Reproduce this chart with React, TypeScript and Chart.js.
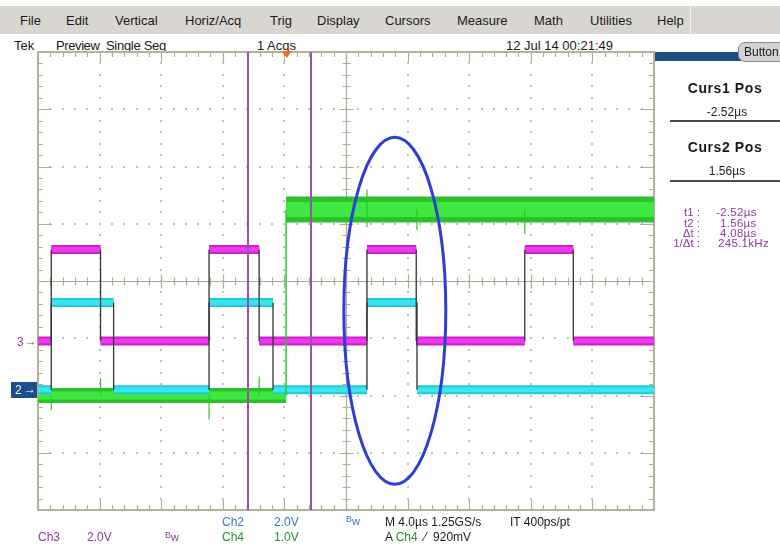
import React, { useEffect, useRef } from "react";
import { Chart, registerables } from "chart.js";
Chart.register(...registerables);

// ---- horizontal: time in µs, 4 µs/div, 10 divisions, trigger at 40.4 %
const TIME_MIN = -16.16;
const TIME_MAX = 23.84;
const DIV_T = 4;
// ---- vertical: divisions
const V_MIN = -4;
const V_MAX = 4;

// Ch3 (magenta) transition times (µs) and levels (div)
const ch3Edges = [-15.3, -12.1, -5.05, -1.8, 5.2, 8.4, 15.45, 18.6];
const ch3Low = -1.05;
const ch3High = 0.55;
// Ch2 (cyan)
const ch2Edges = [-15.3, -11.25, -5.05, -0.9, 5.2, 8.45];
const ch2Low = -1.9;
const ch2High = -0.375;
// Ch4 (green)
const ch4Edges = [-0.05];
const ch4Low = -2.0;
const ch4High = 1.25;
// Ch4 glitches
const ch4SpikeT = [-15.3, -12.1, -5.05, -1.8, 5.2, 8.45, 15.45];
const ch4SpikeTop = [-2.0, -1.7, -2.0, -1.67, 1.6, 1.25, 1.25];
const ch4SpikeBottom = [-2.25, -2.0, -2.42, -2.0, 0.94, 0.89, 0.82];

// cursors (µs)
const cursorT = [-2.52, 1.56];
// ellipse annotation (centre µs, centre div, radius µs, radius div)
const ellipseC = [7.01, -0.52];
const ellipseR = [3.31, 3.03];

const menuLabels = ["File", "Edit", "Vertical", "Horiz/Acq", "Trig", "Display", "Cursors", "Measure", "Math", "Utilities", "Help"];
const menuX = [20, 66, 115, 185, 270, 317, 385, 457, 534, 590, 657];

const FONT = "'Liberation Sans', Arial, Helvetica, sans-serif";

type P = { x: number; y: number | null };

function bands(edges: number[], low: number, high: number, which: "low" | "high" | "all"): P[] {
  const b = [TIME_MIN, ...edges, TIME_MAX];
  const pts: P[] = [];
  for (let i = 0; i < b.length - 1; i++) {
    const hi = i % 2 === 1;
    if (which === "low" && hi) continue;
    if (which === "high" && !hi) continue;
    const lvl = hi ? high : low;
    pts.push({ x: b[i], y: lvl }, { x: b[i + 1], y: lvl }, { x: b[i + 1], y: null });
  }
  return pts;
}
function edgeSegs(edges: number[], low: number, high: number): P[] {
  const pts: P[] = [];
  edges.forEach((e) => pts.push({ x: e, y: low }, { x: e, y: high }, { x: e, y: null }));
  return pts;
}
function spikeSegs(): P[] {
  const pts: P[] = [];
  ch4SpikeT.forEach((t, i) => pts.push({ x: t, y: ch4SpikeBottom[i] }, { x: t, y: ch4SpikeTop[i] }, { x: t, y: null }));
  return pts;
}

const graticule = {
  id: "graticule",
  beforeDatasetsDraw(chart: any) {
    const { ctx, chartArea: a, scales } = chart;
    const px = (d: number) => scales.x.getPixelForValue(TIME_MIN + d * DIV_T);
    const py = (d: number) => scales.y.getPixelForValue(d);
    ctx.save();
    // dotted major grid
    ctx.fillStyle = "#c4c4be";
    for (let k = 1; k < 10; k++) {
      if (k === 5) continue;
      const x = Math.round(px(k));
      for (let m = 0; m <= 40; m++) {
        const y = Math.round(py(V_MIN + m * 0.2));
        ctx.fillRect(x - 1, y - 1, 2, 2);
      }
    }
    for (let j = -3; j <= 3; j++) {
      if (j === 0) continue;
      const y = Math.round(py(j));
      for (let m = 0; m <= 50; m++) {
        const x = Math.round(px(m * 0.2));
        ctx.fillRect(x - 1, y - 1, 2, 2);
      }
    }
    // centre cross
    ctx.strokeStyle = "#b1ac96";
    ctx.lineWidth = 1.2;
    const cx = Math.round(px(5)) + 0.5;
    const cy = Math.round(py(0)) + 0.5;
    ctx.beginPath();
    ctx.moveTo(a.left, cy);
    ctx.lineTo(a.right, cy);
    ctx.moveTo(cx, a.top);
    ctx.lineTo(cx, a.bottom);
    ctx.stroke();
    ctx.beginPath();
    for (let m = 0; m <= 50; m++) {
      const x = Math.round(px(m * 0.2)) + 0.5;
      const len = m % 5 === 0 ? 7 : 4;
      ctx.moveTo(x, cy - len);
      ctx.lineTo(x, cy + len);
      const bl = m % 5 === 0 ? 10 : 5;
      ctx.moveTo(x, a.top);
      ctx.lineTo(x, a.top + bl);
      ctx.moveTo(x, a.bottom);
      ctx.lineTo(x, a.bottom - bl);
    }
    for (let m = 0; m <= 40; m++) {
      const y = Math.round(py(V_MIN + m * 0.2)) + 0.5;
      const len = m % 5 === 0 ? 7 : 4;
      ctx.moveTo(cx - len, y);
      ctx.lineTo(cx + len, y);
      const bl = m % 5 === 0 ? 14 : 5;
      ctx.moveTo(a.left, y);
      ctx.lineTo(a.left + bl, y);
      ctx.moveTo(a.right, y);
      ctx.lineTo(a.right - bl, y);
    }
    ctx.stroke();
    // border
    ctx.strokeStyle = "#b5b099";
    ctx.lineWidth = 2;
    ctx.strokeRect(a.left, a.top, a.right - a.left, a.bottom - a.top);
    ctx.restore();
  },
  afterDatasetsDraw(chart: any) {
    const { ctx, chartArea: a, scales } = chart;
    ctx.save();
    // cursors
    ctx.strokeStyle = "#9a52a6";
    ctx.lineWidth = 2;
    cursorT.forEach((t) => {
      const x = Math.round(scales.x.getPixelForValue(t));
      ctx.beginPath();
      ctx.moveTo(x, a.top);
      ctx.lineTo(x, a.bottom);
      ctx.stroke();
    });
    // trigger marker
    const tx = scales.x.getPixelForValue(0);
    ctx.fillStyle = "#f26a1b";
    ctx.beginPath();
    ctx.moveTo(tx - 5, a.top - 1);
    ctx.lineTo(tx + 5, a.top - 1);
    ctx.lineTo(tx, a.top + 6);
    ctx.closePath();
    ctx.fill();
    // ellipse
    const ex = scales.x.getPixelForValue(ellipseC[0]);
    const ey = scales.y.getPixelForValue(ellipseC[1]);
    const rx = Math.abs(scales.x.getPixelForValue(ellipseC[0] + ellipseR[0]) - ex);
    const ry = Math.abs(scales.y.getPixelForValue(ellipseC[1] + ellipseR[1]) - ey);
    ctx.strokeStyle = "#2e3ed2";
    ctx.lineWidth = 3;
    ctx.beginPath();
    ctx.ellipse(ex, ey, rx, ry, 0, 0, Math.PI * 2);
    ctx.stroke();
    ctx.restore();
  },
};

function line(data: P[], color: string, width: number, order: number) {
  return {
    data,
    borderColor: color,
    borderWidth: width,
    pointRadius: 0,
    spanGaps: false,
    tension: 0,
    borderCapStyle: "butt",
    order,
  };
}

function Scope() {
  const ref = useRef<HTMLCanvasElement | null>(null);
  useEffect(() => {
    if (!ref.current) return;
    const chart = new Chart(ref.current, {
      type: "line",
      data: {
        datasets: [
          line(bands(ch4Edges, ch4Low, ch4High, "high"), "#2cc02c", 26, 20),
          line(bands(ch4Edges, ch4Low, ch4High, "high"), "#3ee83e", 15, 19),
          line(bands(ch4Edges, ch4Low, ch4High, "low"), "#2cc02c", 15, 18),
          line(bands(ch4Edges, ch4Low, ch4High, "low"), "#3ee83e", 8, 17),
          line(bands(ch2Edges, ch2Low, ch2High, "all"), "#22c9d6", 9, 16),
          line(bands(ch2Edges, ch2Low, ch2High, "all"), "#3ae6ee", 5, 15),
          line(bands(ch3Edges, ch3Low, ch3High, "all"), "#cc22cc", 9, 14),
          line(bands(ch3Edges, ch3Low, ch3High, "all"), "#ea3aea", 5, 13),
          line(edgeSegs(ch3Edges, ch3Low, ch3High), "#333333", 1.3, 5),
          line(edgeSegs(ch2Edges, ch2Low, ch2High), "#333333", 1.3, 4),
          line(edgeSegs(ch4Edges, ch4Low, ch4High), "#2cc42c", 1.5, 3),
          line(spikeSegs(), "#2cc42c", 1.2, 2),
        ] as any,
      },
      options: {
        animation: false,
        responsive: false,
        devicePixelRatio: 1,
        layout: { padding: { left: 38, top: 52, right: 126, bottom: 42 } },
        plugins: { legend: { display: false }, tooltip: { enabled: false } },
        scales: {
          x: { type: "linear", min: TIME_MIN, max: TIME_MAX, display: false },
          y: { type: "linear", min: V_MIN, max: V_MAX, display: false },
        },
      } as any,
      plugins: [graticule],
    });
    return () => chart.destroy();
  }, []);
  return <canvas ref={ref} width={780} height={552} style={{ position: "absolute", left: 0, top: 0 }} />;
}

type TP = { x: number; y: number; s: React.ReactNode; c?: string; size?: number; bold?: boolean; align?: "l" | "c" | "r"; ls?: number };
function T({ x, y, s, c = "#1a1a1a", size = 13, bold = false, align = "l", ls = 0 }: TP) {
  const tx = align === "l" ? "0" : align === "c" ? "-50%" : "-100%";
  return (
    <div
      style={{
        position: "absolute",
        left: x,
        top: y,
        transform: `translate(${tx},-50%)`,
        color: c,
        fontSize: size,
        fontWeight: bold ? 700 : 400,
        fontFamily: FONT,
        whiteSpace: "nowrap",
        lineHeight: 1,
        letterSpacing: ls,
      }}
    >
      {s}
    </div>
  );
}

const BW = ({ c }: { c: string }) => (
  <span style={{ color: c }}>
    <span style={{ fontSize: 9, verticalAlign: 3 }}>B</span>
    <span style={{ fontSize: 11 }}>w</span>
  </span>
);

export default function App() {
  const purple = "#8c3a9a";
  const blue = "#3a78b8";
  const green = "#2a8c2a";
  return (
    <div style={{ position: "absolute", left: 0, top: 0, width: 780, height: 552, background: "#fff", overflow: "hidden" }}>
      {/* menu bar */}
      <div style={{ position: "absolute", left: 0, top: 6, width: 780, height: 28, background: "#d9d6d1" }} />
      <div style={{ position: "absolute", left: 690, top: 6, width: 1, height: 28, background: "#f2f2f2" }} />
      {menuLabels.map((m, i) => (
        <T key={m} x={menuX[i]} y={20} s={m} />
      ))}
      {/* status row */}
      <T x={14} y={45} s="Tek" />
      <T x={56} y={45} s="Preview" ls={-0.4} />
      <T x={106} y={45} s="Single Seq" ls={-0.3} />
      <T x={257} y={45} s="1 Acqs" />
      <T x={506} y={45} s="12 Jul 14 00:21:49" />

      <Scope />

      {/* right panel */}
      <div style={{ position: "absolute", left: 655, top: 52, width: 86, height: 9, background: "#1f4f7f" }} />
      <div
        style={{
          position: "absolute",
          left: 738,
          top: 42,
          width: 60,
          height: 20,
          background: "#d2d2d2",
          border: "1px solid #8a8a8a",
          borderRadius: "7px 0 0 7px",
          boxSizing: "border-box",
        }}
      />
      <T x={744} y={52} s="Button" size={12} />
      <T x={725} y={88} s="Curs1 Pos" size={14} bold ls={0.6} align="c" />
      <T x={727} y={112} s="-2.52µs" size={12} align="c" />
      <div style={{ position: "absolute", left: 670, top: 120, width: 110, height: 2, background: "#4a4a4a" }} />
      <T x={725} y={147} s="Curs2 Pos" size={14} bold ls={0.6} align="c" />
      <T x={727} y={171} s="1.56µs" size={12} align="c" />
      <div style={{ position: "absolute", left: 670, top: 180, width: 110, height: 2, background: "#4a4a4a" }} />

      <T x={700} y={213} s="t1 :" c={purple} size={11.5} align="r" />
      <T x={700} y={224} s="t2 :" c={purple} size={11.5} align="r" />
      <T x={700} y={234} s="Δt :" c={purple} size={11.5} align="r" />
      <T x={700} y={244} s="1/Δt :" c={purple} size={11.5} align="r" />
      <T x={716} y={213} s="-2.52µs" c={purple} size={11.5} ls={0.3} />
      <T x={720} y={224} s="1.56µs" c={purple} size={11.5} ls={0.3} />
      <T x={720} y={234} s="4.08µs" c={purple} size={11.5} ls={0.3} />
      <T x={718} y={244} s="245.1kHz" c={purple} size={11.5} ls={0.3} />

      {/* channel markers */}
      <T x={17} y={342} s="3" c={purple} size={12} />
      <T x={25} y={341} s="→" c={purple} size={12} />
      <div style={{ position: "absolute", left: 11, top: 382, width: 26, height: 16, background: "#1c4f8c" }} />
      <T x={15} y={390} s="2" c="#fff" size={12} />
      <T x={24} y={389} s="→" c="#fff" size={12} />

      {/* bottom labels */}
      <T x={222} y={522} s="Ch2" c={blue} size={12} />
      <T x={274} y={522} s="2.0V" c={blue} size={12} />
      <T x={346} y={520} s={<BW c={blue} />} />
      <T x={385} y={522} s="M 4.0µs 1.25GS/s" size={12} />
      <T x={510} y={522} s="IT 400ps/pt" size={12} />
      <T x={38} y={537} s="Ch3" c={purple} size={12} />
      <T x={87} y={537} s="2.0V" c={purple} size={12} />
      <T x={165} y={536} s={<BW c={purple} />} />
      <T x={222} y={537} s="Ch4" c={green} size={12} />
      <T x={274} y={537} s="1.0V" c={green} size={12} />
      <T
        x={385}
        y={537}
        size={12}
        s={
          <span>
            A <span style={{ color: green }}>Ch4</span> &nbsp;⁄ &nbsp;920mV
          </span>
        }
      />
    </div>
  );
}
